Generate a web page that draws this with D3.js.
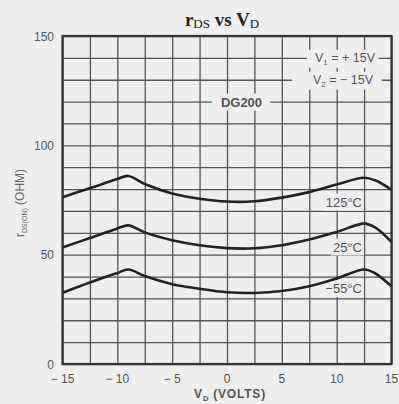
<!DOCTYPE html>
<meta charset="utf-8">
<style>
body { margin: 0; background: #efefef; }
text { font-family: "Liberation Sans", Arial, sans-serif; }
.grid line { stroke: #555; stroke-width: 1.3; }
.grid path { display: none; }
.curve { fill: none; stroke: #222; stroke-width: 2.6; }
</style>
<body>
<script src="https://d3js.org/d3.v7.min.js"></script>
<script>

// data
var vd = [-15, -12.5, -10, -9, -7.5, -5, -2.5, 0, 2.5, 5, 7.5, 10, 12.5, 13.5, 15];
var r125 = [76.3, 80.4, 84.6, 86.0, 82.3, 78.0, 75.6, 74.3, 74.4, 76.1, 78.6, 82.1, 85.2, 84.0, 79.7];
var r25  = [53.3, 57.6, 62.0, 63.4, 60.2, 56.6, 54.3, 53.0, 52.9, 54.3, 56.9, 60.4, 64.2, 62.5, 55.8];
var r55  = [32.6, 37.3, 41.6, 43.2, 40.2, 36.5, 34.4, 32.8, 32.5, 33.4, 35.6, 39.1, 43.2, 41.5, 35.5];
var seriesNames = ["125°C", "25°C", "\u221255°C"];
var xTicks = [-15, -10, -5, 0, 5, 10, 15];
var xTickLabels = ["\u2212 15", "\u2212 10", "\u2212 5", "0", "5", "10", "15"];
var yTicks = [0, 50, 100, 150];

var W = 399, H = 404;
var pL = 62.5, pR = 391.5, pT = 36, pB = 364;

var x = d3.scaleLinear().domain([-15, 15]).range([pL, pR]);
var y = d3.scaleLinear().domain([0, 150]).range([pB, pT]);

var svg = d3.select("body").append("svg")
    .attr("width", W)
    .attr("height", H);

// grid
svg.append("g")
    .attr("class", "grid")
    .attr("transform", "translate(0," + pB + ")")
    .call(d3.axisBottom(x).tickValues(d3.range(-15, 15.1, 2.5)).tickSize(-(pB - pT)).tickFormat(""));
svg.append("g")
    .attr("class", "grid")
    .attr("transform", "translate(" + pL + ",0)")
    .call(d3.axisLeft(y).tickValues(d3.range(0, 150.1, 10)).tickSize(-(pR - pL)).tickFormat(""));

// labels in the plot, with a patch of background behind them
function label(px, py, anchor, build, padL, padR, size, weight) {
  var t = svg.append("text")
      .attr("x", px).attr("y", py)
      .attr("text-anchor", anchor)
      .attr("font-size", size)
      .attr("font-weight", weight || "normal")
      .attr("fill", "#555");
  build(t);
  var b = t.node().getBBox();
  svg.insert("rect", function() { return t.node(); })
      .attr("x", b.x - padL).attr("y", b.y - 1)
      .attr("width", b.width + padL + padR).attr("height", b.height + 2)
      .attr("fill", "#efefef");
}

label(375, y(140) + 4, "end", function(t) {
  t.append("tspan").text("V");
  t.append("tspan").attr("font-size", 8).attr("dy", 3).text("1");
  t.append("tspan").attr("dy", -3).text("  =  + 15V");
}, 8, 3, 12.5);
label(373, y(130) + 4, "end", function(t) {
  t.append("tspan").text("V");
  t.append("tspan").attr("font-size", 8).attr("dy", 3).text("2");
  t.append("tspan").attr("dy", -3).text("  =  \u2212 15V");
}, 21, 8, 12.5);
label(241.5, y(120) + 5, "middle", function(t) { t.text("DG200"); }, 9, 8, 13, "bold");

var seriesVals = [r125, r25, r55];
var labelY = [206.5, 251.5, 293];
seriesNames.forEach(function(n, i) {
  label(362, labelY[i], "end", function(t) { t.text(n); }, 2, 2, 13);
});

// curves
var line = d3.line()
    .x(function(d) { return x(d[0]); })
    .y(function(d) { return y(d[1]); })
    .curve(d3.curveCatmullRom.alpha(0.5));

seriesVals.forEach(function(vals) {
  svg.append("path")
      .attr("class", "curve")
      .attr("d", line(vd.map(function(v, j) { return [v, vals[j]]; })));
});

// frame
svg.append("rect")
    .attr("x", pL).attr("y", pT)
    .attr("width", pR - pL).attr("height", pB - pT)
    .attr("fill", "none").attr("stroke", "#333").attr("stroke-width", 2.2);

// tick labels
svg.selectAll(".ylab").data(yTicks).enter().append("text")
    .attr("x", 54).attr("y", function(d) { return y(d) + 4.5; })
    .attr("text-anchor", "end").attr("font-size", 12).attr("fill", "#555")
    .text(function(d) { return d; });
svg.selectAll(".xlab").data(xTicks).enter().append("text")
    .attr("x", function(d) { return x(d); }).attr("y", 383)
    .attr("text-anchor", "middle").attr("font-size", 12).attr("fill", "#555")
    .text(function(d, i) { return xTickLabels[i]; });

// axis titles
var xt = svg.append("text")
    .attr("x", 230).attr("y", 398)
    .attr("text-anchor", "middle").attr("font-size", 12).attr("font-weight", 600)
    .attr("letter-spacing", 0.8).attr("fill", "#555");
xt.append("tspan").text("V");
xt.append("tspan").attr("font-size", 7.5).attr("dy", 2.5).text("D");
xt.append("tspan").attr("dy", -2.5).text(" (VOLTS)");

var yt = svg.append("text")
    .attr("transform", "translate(24,203) rotate(-90)")
    .attr("text-anchor", "middle").attr("font-size", 12).attr("fill", "#666");
yt.append("tspan").text("r");
yt.append("tspan").attr("font-size", 7).attr("dy", 3).text("DS(ON)");
yt.append("tspan").attr("dy", -3).text(" (OHM)");

// title
var tt = svg.append("text")
    .attr("x", 222).attr("y", 26)
    .attr("text-anchor", "middle")
    .style("font-family", "'Liberation Serif', 'DejaVu Serif', serif")
    .attr("font-size", 19).attr("font-weight", "bold").attr("fill", "#222");
tt.append("tspan").text("r");
tt.append("tspan").attr("font-size", 13).attr("font-weight", "normal").attr("dy", 2).text("DS");
tt.append("tspan").attr("dy", -2).text(" vs V");
tt.append("tspan").attr("font-size", 13).attr("font-weight", "normal").attr("dy", 2).text("D");

</script>
</body>
